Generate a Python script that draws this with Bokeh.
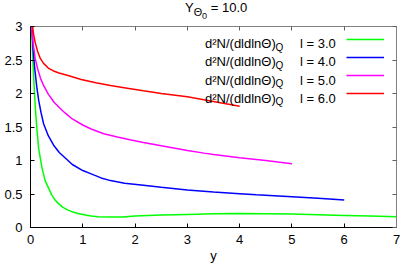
from bokeh.plotting import figure
from bokeh.models import Range1d, LinearAxis, Label, Legend, LegendItem, FixedTicker, Div
from bokeh.layouts import column
from bokeh.embed import file_html
from bokeh.resources import INLINE

# ---- data ----
x_l3 = [0.015, 0.02, 0.043, 0.07, 0.094, 0.125, 0.156, 0.19, 0.22, 0.28, 0.35, 0.41, 0.47, 0.53,
        0.62, 0.72, 0.81, 0.91, 1.05, 1.16, 1.3, 1.5, 1.75, 2.0, 2.5, 3.0, 3.5, 4.0, 4.5, 5.0,
        5.5, 6.0, 6.5, 7.0]
y_l3 = [3.2, 3.0, 2.52, 2.1, 1.76, 1.45, 1.18, 1.02, 0.89, 0.70, 0.58, 0.48, 0.41, 0.36,
        0.30, 0.26, 0.23, 0.21, 0.185, 0.17, 0.16, 0.155, 0.158, 0.17, 0.185, 0.195, 0.205, 0.21,
        0.205, 0.20, 0.19, 0.18, 0.17, 0.16]

x_l4 = [0.015, 0.03, 0.05, 0.08, 0.12, 0.156, 0.2, 0.25, 0.34, 0.45, 0.55, 0.66, 0.8, 1.0,
        1.16, 1.35, 1.53, 1.8, 2.16, 2.5, 3.0, 3.5, 4.0, 4.32, 5.0, 5.5, 6.0]
y_l4 = [3.3, 2.95, 2.65, 2.38, 2.1, 1.90, 1.72, 1.55, 1.37, 1.22, 1.12, 1.04, 0.94, 0.85,
        0.80, 0.74, 0.70, 0.66, 0.63, 0.60, 0.56, 0.53, 0.505, 0.49, 0.46, 0.435, 0.41]

x_l5 = [0.01, 0.02, 0.03, 0.05, 0.09, 0.14, 0.19, 0.25, 0.34, 0.45, 0.55, 0.66, 0.8, 1.0,
        1.16, 1.4, 1.66, 1.9, 2.16, 2.5, 3.0, 3.32, 3.5, 4.0, 4.5, 5.0]
y_l5 = [3.2, 3.05, 2.92, 2.75, 2.52, 2.36, 2.23, 2.12, 1.99, 1.87, 1.79, 1.71, 1.62, 1.53,
        1.47, 1.40, 1.35, 1.31, 1.27, 1.22, 1.15, 1.11, 1.09, 1.04, 1.00, 0.95]

x_l6 = [0.02, 0.04, 0.06, 0.09, 0.14, 0.19, 0.25, 0.34, 0.43, 0.53, 0.75, 0.97, 1.25, 1.53,
        1.85, 2.16, 2.5, 3.0, 3.5, 4.0]
y_l6 = [3.25, 3.0, 2.88, 2.76, 2.62, 2.52, 2.45, 2.38, 2.34, 2.31, 2.26, 2.21, 2.16, 2.12,
        2.08, 2.04, 2.00, 1.95, 1.88, 1.81]

series_l = ["3.0", "4.0", "5.0", "6.0"]
series_colors = ["#00ff00", "#0000ff", "#ff00ff", "#ff0000"]

x_ticks = [0, 1, 2, 3, 4, 5, 6, 7]
x_tick_labels = ["0", "1", "2", "3", "4", "5", "6", "7"]
y_ticks = [0, 0.5, 1, 1.5, 2, 2.5, 3]
y_tick_labels = ["0", "0.5", "1", "1.5", "2", "2.5", "3"]

FONT = "Liberation Sans"
FS = "13px"

TITLE_H = 18
W, H = 401, 265

# title (HTML with sub-scripts, real text)
title = Div(text=('<div style="font-family:\'Liberation Sans\';font-size:13px;line-height:14px;'
                  'padding-top:1px;padding-left:185px;color:black;white-space:nowrap;">'
                  'Y<sub>\u0398<sub>0</sub></sub> = 10.0</div>'),
            width=W, height=TITLE_H, margin=0)

# frame (page px): left 30, right 396, top 26, bottom 228
p = figure(width=W, height=H - TITLE_H, x_range=Range1d(0, 7), y_range=Range1d(0, 3),
           output_backend="svg", toolbar_location=None,
           min_border_left=30, min_border_right=5, min_border_top=26 - TITLE_H,
           min_border_bottom=H - 228, margin=0)
p.outline_line_color = None
p.xgrid.visible = False
p.ygrid.visible = False

for ax, ticks, labels in ((p.xaxis[0], x_ticks, x_tick_labels), (p.yaxis[0], y_ticks, y_tick_labels)):
    ax.ticker = FixedTicker(ticks=ticks)
    ax.major_label_overrides = {t: l for t, l in zip(ticks, labels)}
    ax.major_tick_in = 4
    ax.major_tick_out = 0
    ax.minor_tick_line_color = None
    ax.axis_line_color = "black"
    ax.major_tick_line_color = "black"
    ax.major_label_text_font = FONT
    ax.major_label_text_font_size = FS
    ax.major_label_text_color = "black"
p.xaxis[0].major_label_standoff = 7
p.yaxis[0].major_label_standoff = 8
p.xaxis[0].axis_label = "y"
p.xaxis[0].axis_label_text_font = FONT
p.xaxis[0].axis_label_text_font_size = FS
p.xaxis[0].axis_label_text_font_style = "normal"
p.xaxis[0].axis_label_text_color = "black"
p.xaxis[0].axis_label_standoff = 1

top_ax = LinearAxis(ticker=FixedTicker(ticks=x_ticks))
right_ax = LinearAxis(ticker=FixedTicker(ticks=y_ticks))
for ax, ticks in ((top_ax, x_ticks), (right_ax, y_ticks)):
    ax.major_label_overrides = {t: "" for t in ticks}
    ax.major_label_standoff = 0
    ax.major_label_text_font_size = "1px"
    ax.major_tick_in = 4
    ax.major_tick_out = 0
    ax.minor_tick_line_color = None
    ax.axis_line_color = "#808080"
    ax.major_tick_line_color = "#606060"
p.add_layout(top_ax, "above")
p.add_layout(right_ax, "right")

renderers = []
for xs, ys, c in ((x_l3, y_l3, series_colors[0]), (x_l4, y_l4, series_colors[1]),
                  (x_l5, y_l5, series_colors[2]), (x_l6, y_l6, series_colors[3])):
    renderers.append(p.line(xs, ys, line_color=c, line_width=1.5))

FX, FB = 30, 228  # frame left / bottom in page px

# legend line samples (page px: x 346..384, rows centred at 39, 57.3, 75.6, 93.9)
legend = Legend(items=[LegendItem(label=" ", renderers=[r]) for r in renderers],
                location=(346 - FX, FB - 102), glyph_width=38, glyph_height=16, label_height=16,
                label_width=0, label_standoff=0, spacing=2, padding=0, margin=0,
                label_text_font_size="1px", border_line_color=None,
                background_fill_alpha=0)
p.add_layout(legend)


def lab(text, X, Y, size=FS, align="left"):
    p.add_layout(Label(x=X - FX, y=FB - Y, x_units="screen", y_units="screen", text=text,
                       text_font=FONT, text_font_size=size, text_color="black",
                       text_align=align, text_baseline="alphabetic"))


# legend texts
row_base = [44, 62.3, 80.6, 98.9]
for yb, lv in zip(row_base, series_l):
    lab("d\u00b2N/(dldln\u0398)", 204.5, yb)
    lab("Q", 275, yb + 3.5, size="10px")
    lab("l = " + lv, 299.5, yb)

layout = column(title, p, spacing=0)
open("out.html", "w").write(file_html(layout, INLINE))
